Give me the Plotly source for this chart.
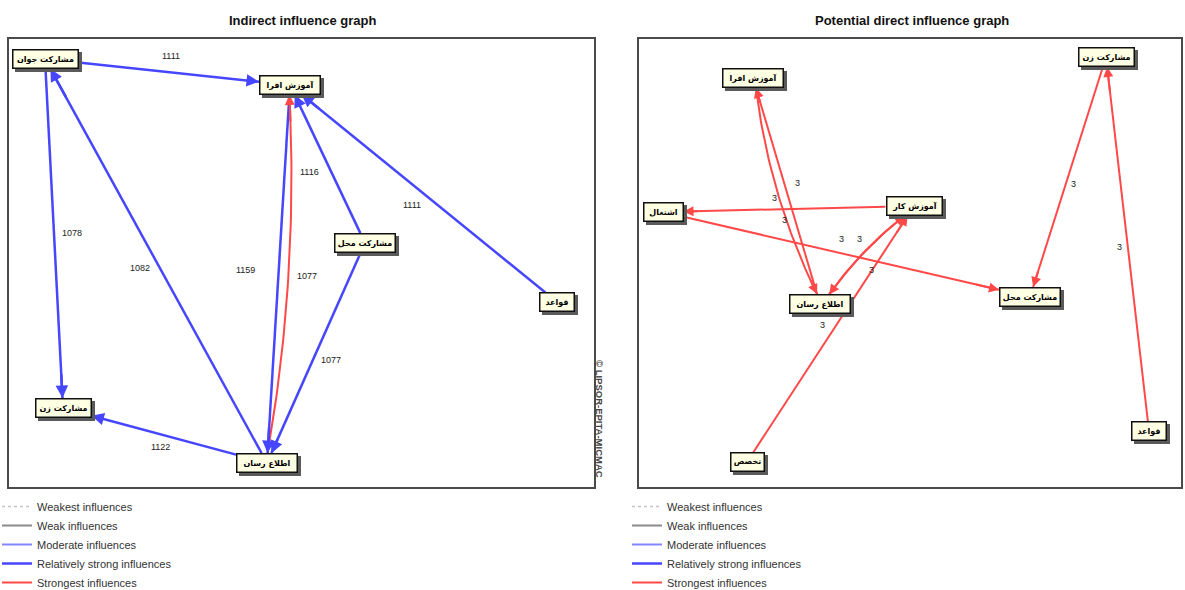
import numpy as np
import plotly.graph_objects as go

W, H = 1185, 590

# ---------------- data ----------------
left_title = "Indirect influence graph"
right_title = "Potential direct influence graph"

left_names = ["مشارکت جوان", "آموزش افرا", "مشارکت محل", "قواعد", "مشارکت زن", "اطلاع رسان"]
left_x = [45, 290, 365, 557, 63, 267]
left_y = [59, 85, 243, 302, 408, 463]
left_src = [0, 0, 5, 5, 1, 2, 3, 2, 5]
left_tgt = [1, 4, 0, 1, 5, 1, 1, 5, 4]
left_val = ["1111", "1078", "1082", "1159", "1077", "1116", "1111", "1077", "1122"]
left_level = ["strong", "strong", "strong", "strongest", "strong", "strong", "strong", "strong", "strong"]

right_names = ["آموزش افرا", "مشارکت زن", "اشتغال", "آموزش کار", "مشارکت محل", "اطلاع رسان", "تخصص", "قواعد"]
right_x = [753, 1106, 663, 914, 1030, 820, 747, 1149]
right_y = [78, 57, 212, 206, 297, 304, 462, 431]
right_src = [5, 0, 3, 2, 3, 5, 6, 1, 7]
right_tgt = [0, 5, 2, 4, 5, 3, 3, 4, 1]
right_val = ["3", "3", "3", "3", "3", "3", "3", "3", "3"]
right_level = ["strongest"] * 9

legend_labels = ["Weakest influences", "Weak influences", "Moderate influences",
                 "Relatively strong influences", "Strongest influences"]
legend_levels = ["weakest", "weak", "moderate", "strong", "strongest"]

copyright_text = "© LIPSOR-EPITA-MICMAC"

# ---------------- styles ----------------
LEVEL_STYLE = {
    "weakest": dict(color="#c4c4c4", width=1.5, dash="dot"),
    "weak": dict(color="#8a8a8a", width=2, dash="solid"),
    "moderate": dict(color="#8484ff", width=2, dash="solid"),
    "strong": dict(color="#4646ff", width=2.5, dash="solid"),
    "strongest": dict(color="#ff4848", width=2, dash="solid"),
}
# per-edge curvature (px, perpendicular) and label offsets (px, right/down)
left_bend = [0, 0, 0, 10, 0, 0, 0, 0, 0]
left_lab_off = [(3, -16), (18, -1), (-16, 7), (-33, -4), (28, 2), (-18, 8), (-12, 11), (15, 7), (-5, 11)]
right_bend = [0, 9, 0, 0, 4, -4, 0, 0, 0]
right_lab_off = [(11, -8), (-2, 29), (-14, -11), (-5, -16), (-8, -16), (4, 15), (-8, -9), (5, 7), (-8, 3)]

PY0, PY1 = 38, 488
panels = [
    dict(xa="x", ya="y", title=left_title, tx=302,
         names=left_names, nx=left_x, ny=left_y, src=left_src, tgt=left_tgt,
         val=left_val, lvl=left_level, bend=left_bend, off=left_lab_off),
    dict(xa="x2", ya="y2", title=right_title, tx=912,
         names=right_names, nx=right_x, ny=right_y, src=right_src, tgt=right_tgt,
         val=right_val, lvl=right_level, bend=right_bend, off=right_lab_off),
]

NODE_FONT = "DejaVu Sans"
TXT_FONT = "Liberation Sans Narrow, Arial Narrow, Liberation Sans, Arial"
NODE_H = 17

fig = go.Figure()
annotations = []
shapes = []


def box_w(name):
    return max(32, round(5.2 * len(name) + 7))


def clip(cx, cy, dx, dy, name):
    hw, hh = box_w(name) / 2, NODE_H / 2
    n = np.hypot(dx, dy)
    ux, uy = dx / n, dy / n
    t = min(hw / abs(ux) if ux != 0 else 1e9, hh / abs(uy) if uy != 0 else 1e9)
    return cx + ux * (t + 1.5), cy + uy * (t + 1.5)


for p in panels:
    xa, ya = p["xa"], p["ya"]
    nx, ny, names = p["nx"], p["ny"], p["names"]
    for k in range(len(p["src"])):
        s, t = p["src"][k], p["tgt"][k]
        st = LEVEL_STYLE[p["lvl"][k]]
        x0, y0 = clip(nx[s], ny[s], nx[t] - nx[s], ny[t] - ny[s], names[s])
        x1, y1 = clip(nx[t], ny[t], nx[s] - nx[t], ny[s] - ny[t], names[t])
        dx, dy = x1 - x0, y1 - y0
        L = np.hypot(dx, dy)
        px, py = -dy / L, dx / L
        b = p["bend"][k]
        cxm, cym = (x0 + x1) / 2 + px * 2 * b, (y0 + y1) / 2 + py * 2 * b
        tt = np.linspace(0, 1, 40)
        bx = (1 - tt) ** 2 * x0 + 2 * (1 - tt) * tt * cxm + tt ** 2 * x1
        by = (1 - tt) ** 2 * y0 + 2 * (1 - tt) * tt * cym + tt ** 2 * y1
        fig.add_trace(go.Scatter(x=bx, y=by, mode="lines", xaxis=xa, yaxis=ya,
                                 line=dict(color=st["color"], width=st["width"]),
                                 hoverinfo="skip", showlegend=False))
        annotations.append(dict(x=bx[-1], y=by[-1], ax=bx[-4], ay=by[-4],
                                xref=xa, yref=ya, axref=xa, ayref=ya, text="",
                                showarrow=True, arrowhead=2, arrowsize=1.0,
                                arrowwidth=st["width"], arrowcolor=st["color"], standoff=0))
        ox, oy = p["off"][k]
        annotations.append(dict(x=(nx[s] + nx[t]) / 2, y=(ny[s] + ny[t]) / 2,
                                xref=xa, yref=ya, xshift=ox, yshift=-oy, text=p["val"][k],
                                showarrow=False, font=dict(family=TXT_FONT, size=9, color="#222")))
    for i, nm in enumerate(names):
        annotations.append(dict(x=nx[i], y=ny[i], xref=xa, yref=ya, xshift=3, yshift=-3,
                                text=" ", width=box_w(nm), height=NODE_H, showarrow=False,
                                font=dict(family=NODE_FONT, size=8, color="#5a5a5a"),
                                bgcolor="#5a5a5a", bordercolor="#5a5a5a", borderwidth=1.5, borderpad=0))
        annotations.append(dict(x=nx[i], y=ny[i], xref=xa, yref=ya,
                                text="<b>" + nm + "</b>", width=box_w(nm), height=NODE_H,
                                showarrow=False,
                                font=dict(family=NODE_FONT, size=8, color="#000"),
                                bgcolor="#ffffe4", bordercolor="#111", borderwidth=1.5, borderpad=0))
    shapes.append(dict(type="rect", xref=xa + " domain", yref=ya + " domain",
                       x0=0, x1=1, y0=0, y1=1, line=dict(color="#4a4a4a", width=2)))
    annotations.append(dict(x=p["tx"] / W, y=1 - 20 / H, xref="paper", yref="paper",
                            xanchor="center", yanchor="middle",
                            text="<b>" + p["title"] + "</b>", showarrow=False,
                            font=dict(family=TXT_FONT, size=13, color="#111")))

annotations.append(dict(x=600 / W, y=1 - 419 / H, xref="paper", yref="paper",
                        xanchor="center", yanchor="middle", text="<b>" + copyright_text + "</b>",
                        textangle=90, showarrow=False, font=dict(family=TXT_FONT, size=9.5, color="#444")))

# legends
for xa, ya, lg in [("x", "y", "legend"), ("x2", "y2", "legend2")]:
    for lab, lv in zip(legend_labels, legend_levels):
        st = LEVEL_STYLE[lv]
        fig.add_trace(go.Scatter(x=[None], y=[None], mode="lines", xaxis=xa, yaxis=ya,
                                 name=lab, legend=lg, showlegend=True,
                                 line=dict(color=st["color"], width=st["width"], dash=st["dash"])))

leg_common = dict(yanchor="top", xanchor="left", bgcolor="rgba(0,0,0,0)", itemwidth=30,
                  tracegroupgap=0, traceorder="normal",
                  font=dict(family=TXT_FONT, size=11, color="#333"))

axis_common = dict(showgrid=False, zeroline=False, showticklabels=False, ticks="", showline=False, fixedrange=True)

fig.update_layout(
    width=W, height=H, margin=dict(l=0, r=0, t=0, b=0, autoexpand=False),
    paper_bgcolor="white", plot_bgcolor="white",
    xaxis=dict(domain=[8 / W, 595 / W], range=[8, 595], anchor="y", **axis_common),
    yaxis=dict(domain=[1 - PY1 / H, 1 - PY0 / H], range=[PY1, PY0], anchor="x", **axis_common),
    xaxis2=dict(domain=[638 / W, 1182 / W], range=[638, 1182], anchor="y2", **axis_common),
    yaxis2=dict(domain=[1 - PY1 / H, 1 - PY0 / H], range=[PY1, PY0], anchor="x2", **axis_common),
    legend=dict(x=-3 / W, y=1 - 492 / H, **leg_common),
    legend2=dict(x=627 / W, y=1 - 492 / H, **leg_common),
    annotations=annotations, shapes=shapes,
)

fig.write_html("out.html", config={"displayModeBar": False},
               post_script="document.body.style.margin='0';document.body.style.overflow='hidden';")
